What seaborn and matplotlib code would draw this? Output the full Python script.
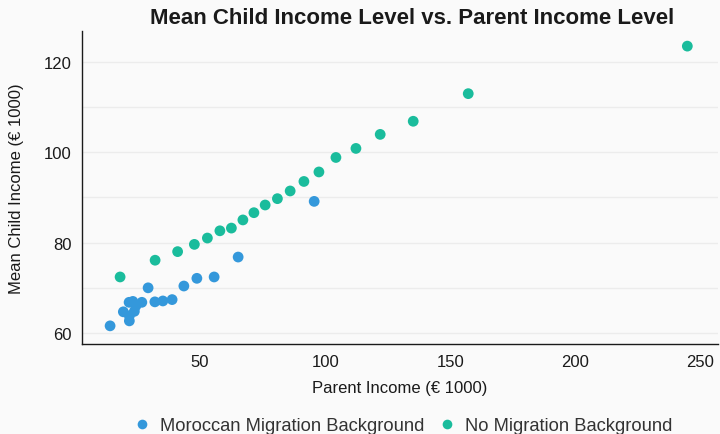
import seaborn as sns
import matplotlib.pyplot as plt
import pandas as pd

# values (x: parent income, y: mean child income, in € 1000)
moroccan_parent = [95.6, 65.2, 55.6, 48.7, 43.5, 38.8, 35.1, 31.9, 29.2, 26.7,
                   23.1, 21.6, 24.3, 23.7, 19.3, 21.7, 21.7, 14.0]
moroccan_child = [89.1, 76.8, 72.4, 72.1, 70.4, 67.4, 67.1, 66.9, 70.0, 66.8,
                  67.0, 66.8, 66.0, 64.8, 64.7, 63.8, 62.7, 61.6]

native_parent = [18.0, 32.0, 41.0, 47.7, 52.9, 57.9, 62.5, 67.1, 71.5, 76.0,
                 80.9, 86.0, 91.5, 97.5, 104.3, 112.3, 122.0, 135.2, 157.2, 244.8]
native_child = [72.4, 76.1, 78.0, 79.6, 81.0, 82.6, 83.2, 85.0, 86.6, 88.3,
                89.7, 91.4, 93.5, 95.6, 98.8, 100.8, 103.9, 106.8, 112.9, 123.4]

groups = ["Moroccan Migration Background", "No Migration Background"]
colors = ["#3498db", "#1abc9c"]

df = pd.DataFrame({
    "parent": moroccan_parent + native_parent,
    "child": moroccan_child + native_child,
    "group": [groups[0]] * len(moroccan_parent) + [groups[1]] * len(native_parent),
})

sns.set_style("white")
plt.rcParams["font.family"] = ["Liberation Sans", "DejaVu Sans"]
bg = "#fafafa"
ink = "#1a1a1a"

fig, ax = plt.subplots(figsize=(7.2, 4.35), dpi=100)
fig.patch.set_facecolor(bg)
ax.set_facecolor(bg)

sns.scatterplot(data=df, x="parent", y="child", hue="group", hue_order=groups,
                palette=colors, s=60, edgecolor="none", ax=ax, zorder=3)

ax.set_xlim(2.8, 257)
ax.set_ylim(57.6, 126.7)
ax.set_xticks([50, 100, 150, 200, 250])
ax.set_yticks([60, 80, 100, 120])
ax.set_yticks([70, 90, 110], minor=True)
ax.grid(axis="y", which="both", color="#ececec", linewidth=1.0, zorder=0)
ax.set_axisbelow(True)

for s in ["top", "right"]:
    ax.spines[s].set_visible(False)
for s in ["left", "bottom"]:
    ax.spines[s].set_color(ink)
    ax.spines[s].set_linewidth(1.0)
ax.tick_params(axis="both", which="major", length=4, color=ink,
               labelsize=12, labelcolor=ink, direction="out")
ax.tick_params(axis="y", which="minor", length=0)

title = ax.set_title("Mean Child Income Level vs. Parent Income Level",
                     fontsize=16, fontweight="bold", pad=6, color=ink)
title.set_x(0.519)
ax.set_xlabel("Parent Income (€ 1000)", fontsize=12, labelpad=8, color=ink)
ax.set_ylabel("Mean Child Income (€ 1000)", fontsize=12, labelpad=14, color=ink)

handles, labels = ax.get_legend_handles_labels()
ax.get_legend().remove()
leg = fig.legend(handles, labels, loc="lower center", bbox_to_anchor=(0.553, -0.038),
                 ncol=2, frameon=False, fontsize=13.2, handletextpad=0.0,
                 columnspacing=0.2, markerscale=0.9)
for t in leg.get_texts():
    t.set_color("#333333")

plt.subplots_adjust(left=0.114, right=0.997, top=0.926, bottom=0.207)
plt.savefig("out.png", dpi=100, facecolor=bg)
